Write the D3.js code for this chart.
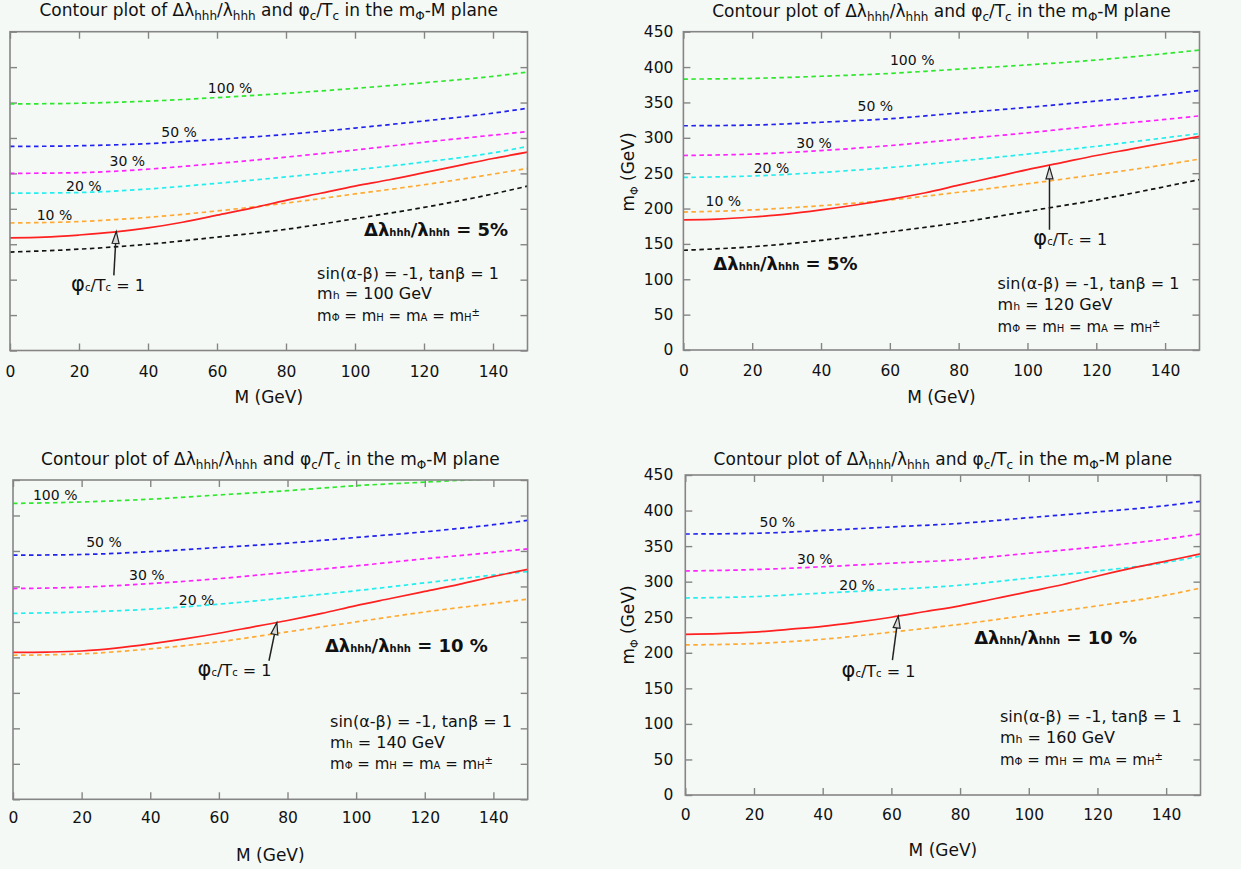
<!DOCTYPE html>
<html><head><meta charset="utf-8">
<script src="https://cdn.jsdelivr.net/npm/d3@7"></script>
<style>body{margin:0;background:#f5f9f6;} svg{display:block}</style>
</head><body>
<svg id="c" width="1241" height="869"></svg>
<script>
// ---------- axes / ticks ----------
const mGrid = [0, 20, 40, 60, 80, 100, 120, 140, 150];
const mGridFine = [0, 10, 20, 30, 40, 50, 60, 70, 80, 90, 100, 110, 120, 130, 140, 150];
const xTicks = [0, 20, 40, 60, 80, 100, 120, 140];
const yTicks = [0, 50, 100, 150, 200, 250, 300, 350, 400, 450];
const xTickLabels = ["0", "20", "40", "60", "80", "100", "120", "140"];
const yTickLabels = ["0", "50", "100", "150", "200", "250", "300", "350", "400", "450"];
const levelNames = ["100 %", "50 %", "30 %", "20 %", "10 %", "5%"];
const higgsMasses = ["100", "120", "140", "160"];

// ---------- m_h = 100 GeV (m_Phi in GeV vs M) ----------
const mh100_pct100 = [348, 349, 352, 357, 363, 370, 378, 387, 393];
const mh100_pct50  = [288, 289, 292, 298, 305, 314, 324, 335, 342];
const mh100_pct30  = [250, 251, 256, 264, 273, 283, 294, 304, 309];
const mh100_pct20  = [222, 223, 228, 236, 245, 255, 266, 279, 288];
const mh100_pct10  = [180, 182, 188, 197, 208, 221, 234, 249, 257];
const mh100_pct5   = [139, 143, 150, 160, 171, 186, 202, 221, 232];
const mh100_phiT1  = [159, 160, 163, 167, 173, 181, 191, 201, 212, 222, 232, 241, 251, 261, 271, 280];

// ---------- m_h = 120 GeV ----------
const mh120_pct100 = [383, 384, 387, 391, 397, 403, 410, 419, 424];
const mh120_pct50  = [317, 318, 322, 327, 335, 343, 352, 361, 367];
const mh120_pct30  = [275, 277, 282, 289, 298, 307, 317, 326, 331];
const mh120_pct20  = [244, 246, 251, 258, 267, 277, 288, 300, 306];
const mh120_pct10  = [195, 198, 204, 212, 223, 235, 248, 262, 270];
const mh120_pct5   = [141, 146, 155, 167, 180, 196, 212, 231, 241];
const mh120_phiT1  = [184, 185, 188, 192, 198, 205, 213, 222, 233, 244, 255, 265, 275, 284, 293, 302];

// ---------- m_h = 140 GeV ----------
const mh140_pct100 = [417, 419, 423, 429, 435, 442, 447, 452, 455];
const mh140_pct50  = [344, 345, 349, 355, 361, 369, 377, 387, 393];
const mh140_pct30  = [297, 299, 304, 311, 320, 329, 339, 348, 353];
const mh140_pct20  = [262, 264, 268, 275, 284, 294, 305, 316, 321];
const mh140_pct10  = [203, 205, 212, 222, 236, 250, 264, 276, 282];
const mh140_phiT1  = [207, 207.5, 209, 213, 219, 226, 234, 243, 252, 262, 273, 283, 293, 303, 314, 324];

// ---------- m_h = 160 GeV ----------
const mh160_pct50  = [367, 368, 372, 377, 382, 390, 398, 407, 413];
const mh160_pct30  = [315, 317, 321, 326, 331, 340, 349, 360, 367];
const mh160_pct20  = [277, 279, 284, 289, 295, 305, 315, 327, 336];
const mh160_pct10  = [211, 213, 219, 229, 240, 253, 266, 281, 291];
const mh160_phiT1  = [226, 227, 229, 233, 237, 243, 250, 258, 266, 276, 286, 296, 308, 319, 329, 339];

// ---------- styles ----------
const levelColor = {"100 %": "#2ee82e", "50 %": "#2222ee", "30 %": "#ff22ff", "20 %": "#22eeee", "10 %": "#ffaa33", "5%": "#111111"};
const FONT = "'DejaVu Sans', sans-serif";
const TXT = "#111";
const FRAME = "#858585";

// ---------- panel definitions ----------
const panels = [
  {mh: "100", left: 10, right: 527.5, top: 31.7, bottom: 350.5, yLabels: false,
   titleY: 16, xTitleY: 403, xPad: 15, yPad: 10, yTitle: null,
   curves: [["100 %", mh100_pct100], ["50 %", mh100_pct50], ["30 %", mh100_pct30], ["20 %", mh100_pct20], ["10 %", mh100_pct10], ["5%", mh100_pct5]],
   red: mh100_phiT1,
   labels: [["100 %", 63.8, 364], ["50 %", 49, 301.8], ["30 %", 34, 259.8], ["20 %", 21.4, 224.5], ["10 %", 12.9, 184.5]],
   big: {pct: "5%", x: 102.6, v: 161.9},
   phi: {x: 17.7, v: 84.1}, arrow: [30.1, 106, 30.8, 168],
   block: {x: 89, v: [101, 72.8, 41.7]}},
  {mh: "120", left: 683.4, right: 1199.5, top: 31.7, bottom: 350, yLabels: true,
   titleY: 16.5, xTitleY: 403, xPad: 15, yPad: 10, yTitle: 172,
   curves: [["100 %", mh120_pct100], ["50 %", mh120_pct50], ["30 %", mh120_pct30], ["20 %", mh120_pct20], ["10 %", mh120_pct10], ["5%", mh120_pct5]],
   red: mh120_phiT1,
   labels: [["100 %", 66.5, 403], ["50 %", 55.8, 338], ["30 %", 38, 285.6], ["20 %", 25.6, 250], ["10 %", 11.6, 203.6]],
   big: {pct: "5%", x: 8.7, v: 113},
   phi: {x: 101.7, v: 148.5}, arrow: [106.4, 170, 106.4, 259],
   block: {x: 91.3, v: [86.2, 56.6, 25.4]}},
  {mh: "140", left: 13, right: 527.7, top: 480, bottom: 799.3, yLabels: false,
   titleY: 465, xTitleY: 861, xPad: 13, yPad: 10, yTitle: null,
   curves: [["100 %", mh140_pct100], ["50 %", mh140_pct50], ["30 %", mh140_pct30], ["20 %", mh140_pct20], ["10 %", mh140_pct10]],
   red: mh140_phiT1,
   labels: [["100 %", 12.3, 421.8], ["50 %", 26.5, 355.6], ["30 %", 39, 309], ["20 %", 53.5, 273.8]],
   big: {pct: "10 %", x: 90.9, v: 207.6},
   phi: {x: 53.8, v: 173.8}, arrow: [74.6, 195.3, 76.9, 249],
   block: {x: 92.4, v: [101.9, 72.3, 42.7]}},
  {mh: "160", left: 685.3, right: 1200.5, top: 475, bottom: 795, yLabels: true,
   titleY: 464.5, xTitleY: 856, xPad: 14, yPad: 12, yTitle: 625,
   curves: [["50 %", mh160_pct50], ["30 %", mh160_pct30], ["20 %", mh160_pct20], ["10 %", mh160_pct10]],
   red: mh160_phiT1,
   labels: [["50 %", 26.8, 376.9], ["30 %", 37.7, 324.8], ["20 %", 50, 288.3]],
   big: {pct: "10 %", x: 84.1, v: 212.3},
   phi: {x: 45.5, v: 166}, arrow: [60.3, 189.8, 62, 251.7],
   block: {x: 91.6, v: [102.7, 73.1, 42.2]}}
];

const svg = d3.select("#c");
svg.append("rect").attr("width", 1241).attr("height", 869).attr("fill", "#f5f9f6");

function rich(g, x, y, parts, opts = {}) {
  const t = g.append("text").attr("x", x).attr("y", y)
    .attr("font-family", FONT).attr("fill", TXT);
  if (opts.anchor) t.attr("text-anchor", opts.anchor);
  if (opts.weight) t.attr("font-weight", opts.weight);
  if (opts.rotate) t.attr("transform", `rotate(${opts.rotate},${x},${y})`);
  let cur = 0;
  parts.forEach(p => {
    const shift = p.dy || 0;
    t.append("tspan").text(p.t).attr("font-size", p.s).attr("dy", shift - cur);
    cur = shift;
  });
  return t;
}

const titleParts = [
  {t: "Contour plot of Δλ", s: 17}, {t: "hhh", s: 12, dy: 4}, {t: "/λ", s: 17}, {t: "hhh", s: 12, dy: 4},
  {t: " and φ", s: 17}, {t: "c", s: 12, dy: 4}, {t: "/T", s: 17}, {t: "c", s: 12, dy: 4},
  {t: " in the m", s: 17}, {t: "Φ", s: 12, dy: 4}, {t: "-M plane", s: 17}
];

panels.forEach((p, i) => {
  const g = svg.append("g");
  const x = d3.scaleLinear().domain([0, 150]).range([p.left, p.right]);
  const y = d3.scaleLinear().domain([0, 450]).range([p.bottom, p.top]);
  const clipId = "clip" + i;
  g.append("clipPath").attr("id", clipId).append("rect")
    .attr("x", p.left).attr("y", p.top).attr("width", p.right - p.left).attr("height", p.bottom - p.top);

  // ticks (inward) on all four sides
  const tk = 7;
  const styleAxis = a => {
    a.select(".domain").remove();
    a.selectAll(".tick line").attr("stroke", FRAME).attr("stroke-width", 1.4);
    a.selectAll(".tick text").attr("font-family", FONT).attr("font-size", 15.5).attr("fill", TXT);
  };
  g.append("g").attr("transform", `translate(0,${p.bottom})`)
    .call(d3.axisBottom(x).tickValues(xTicks).tickSize(-tk).tickPadding(p.xPad).tickFormat((d, j) => xTickLabels[j]))
    .call(styleAxis);
  g.append("g").attr("transform", `translate(0,${p.top})`)
    .call(d3.axisTop(x).tickValues(xTicks).tickSize(-tk).tickFormat(""))
    .call(styleAxis);
  g.append("g").attr("transform", `translate(${p.left},0)`)
    .call(d3.axisLeft(y).tickValues(yTicks).tickSize(-tk).tickPadding(p.yPad)
      .tickFormat((d, j) => p.yLabels ? yTickLabels[j] : ""))
    .call(styleAxis);
  g.append("g").attr("transform", `translate(${p.right},0)`)
    .call(d3.axisRight(y).tickValues(yTicks).tickSize(-tk).tickFormat(""))
    .call(styleAxis);

  // contour curves
  const cg = g.append("g").attr("clip-path", `url(#${clipId})`);
  const line = d3.line().x(d => x(d[0])).y(d => y(d[1])).curve(d3.curveMonotoneX);
  p.curves.forEach(([name, vals]) => {
    cg.append("path").datum(mGrid.map((m, j) => [m, vals[j]]))
      .attr("d", line).attr("fill", "none")
      .attr("stroke", levelColor[name]).attr("stroke-width", 1.7)
      .attr("stroke-dasharray", "4.5,3.5");
  });
  cg.append("path").datum(mGridFine.map((m, j) => [m, p.red[j]]))
    .attr("d", line).attr("fill", "none").attr("stroke", "#ff2020").attr("stroke-width", 1.7);

  // frame
  g.append("rect").attr("x", p.left).attr("y", p.top)
    .attr("width", p.right - p.left).attr("height", p.bottom - p.top)
    .attr("fill", "none").attr("stroke", FRAME).attr("stroke-width", 1.6);

  // title
  rich(g, (p.left + p.right) / 2, p.titleY, titleParts, {anchor: "middle"});
  // x axis title
  rich(g, (p.left + p.right) / 2, p.xTitleY, [{t: "M (GeV)", s: 17}], {anchor: "middle"});
  // y axis title
  if (p.yTitle !== null) {
    rich(g, 634, p.yTitle, [{t: "m", s: 17}, {t: "Φ", s: 11, dy: 4}, {t: " (GeV)", s: 17}], {anchor: "middle", rotate: -90});
  }

  // contour level labels
  p.labels.forEach(([name, lx, lv]) => {
    rich(g, x(lx), y(lv), [{t: name, s: 14}], {anchor: "middle"});
  });

  // big delta-lambda label
  rich(g, x(p.big.x), y(p.big.v), [
    {t: "Δλ", s: 18}, {t: "hhh", s: 10}, {t: "/λ", s: 18}, {t: "hhh", s: 10}, {t: " = " + p.big.pct, s: 18}
  ], {weight: "bold"});

  // phi_c / T_c label
  rich(g, x(p.phi.x), y(p.phi.v), [
    {t: "φ", s: 21}, {t: "c", s: 10}, {t: "/T", s: 16}, {t: "c", s: 10}, {t: " = 1", s: 16}
  ]);

  // arrow
  const [ax0, av0, ax1, av1] = p.arrow;
  const X0 = x(ax0), Y0 = y(av0), X1 = x(ax1), Y1 = y(av1);
  const ang = Math.atan2(Y1 - Y0, X1 - X0);
  const L = 12, W = 3.5;
  const bx = X1 - L * Math.cos(ang), by = Y1 - L * Math.sin(ang);
  const nx = -Math.sin(ang), ny = Math.cos(ang);
  g.append("line").attr("x1", X0).attr("y1", Y0).attr("x2", bx).attr("y2", by)
    .attr("stroke", "#222").attr("stroke-width", 1.5);
  g.append("path")
    .attr("d", `M${X1},${Y1}L${bx + W * nx},${by + W * ny}L${bx - W * nx},${by - W * ny}Z`)
    .attr("fill", "#d8d8d8").attr("stroke", "#222").attr("stroke-width", 1.2);

  // parameter block
  const bxp = x(p.block.x);
  rich(g, bxp, y(p.block.v[0]), [{t: "sin(α-β) = -1, tanβ = 1", s: 16}]);
  rich(g, bxp, y(p.block.v[1]), [{t: "m", s: 16}, {t: "h", s: 11}, {t: " = " + p.mh + " GeV", s: 16}]);
  rich(g, bxp, y(p.block.v[2]), [
    {t: "m", s: 15}, {t: "Φ", s: 10}, {t: " = m", s: 15}, {t: "H", s: 10}, {t: " = m", s: 15},
    {t: "A", s: 10}, {t: " = m", s: 15}, {t: "H", s: 10}, {t: "±", s: 10, dy: -5}
  ]);
});
</script>
</body></html>
